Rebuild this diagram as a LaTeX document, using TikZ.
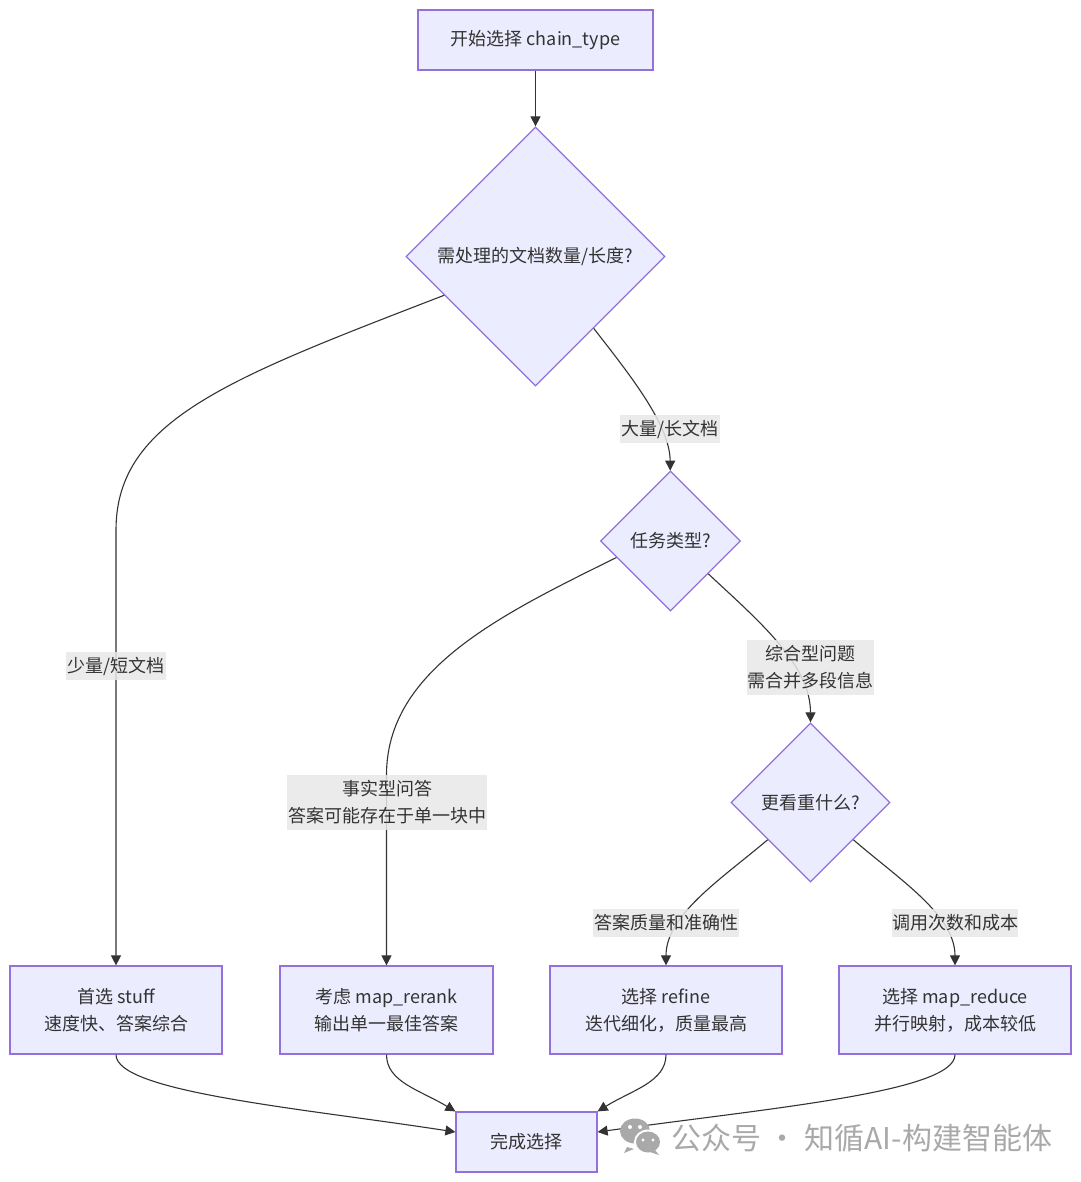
\documentclass[tikz,border=0pt]{standalone}
\usepackage{fontspec}
\setmainfont{Noto Sans CJK SC}
\usetikzlibrary{shapes.geometric,arrows.meta}
\definecolor{boxfill}{HTML}{ECECFF}
\definecolor{boxline}{HTML}{9370DB}
\definecolor{inkdark}{HTML}{333333}
\definecolor{labelbg}{HTML}{E8E8E8}
\definecolor{markgray}{HTML}{A9A9A9}
\tikzset{
	basenode/.style={draw=boxline, fill=boxfill, line width=1.2pt, text=inkdark, inner sep=0pt,
		align=center, font=\fontsize{18}{27}\selectfont},
	stepbox/.style={basenode, rectangle},
	choice/.style={basenode, diamond, aspect=1},
	link/.style={draw=inkdark, line width=1.1pt, -{Triangle[length=10pt,width=10pt]}},
	edgelabel/.style={fill=labelbg, fill opacity=0.85, text opacity=1, text=inkdark, inner sep=0pt,
		align=center, font=\fontsize{18}{27}\selectfont},
}
\begin{document}
\begin{tikzpicture}[x=1pt,y=-1pt]
	\useasboundingbox (0,0) rectangle (1080,1182);
	\node[stepbox, minimum width=235pt, minimum height=60pt] (start) at (535.5,40) {开始选择 chain\_type};
	\node[choice, minimum width=259pt, minimum height=259pt] (docs) at (535.5,256.5) {需处理的文档数量/长度?};
	\node[choice, minimum width=140pt, minimum height=140pt] (task) at (670.5,541) {任务类型?};
	\node[choice, minimum width=159pt, minimum height=159pt] (focus) at (810.5,802.5) {更看重什么?};
	% bottom row
	\foreach \name/\x/\w/\txt in {stuff/116/212/{首选 stuff\\速度快、答案综合},
		rerank/386.5/213/{考虑 map\_rerank\\输出单一最佳答案},
		refine/666/232/{选择 refine\\迭代细化，质量最高},
		reduce/955/232/{选择 map\_reduce\\并行映射，成本较低}}
	{
		\node[stepbox, minimum width=\w pt, minimum height=88pt] (\name) at (\x,1010) {\txt};
	}
	\node[stepbox, minimum width=141pt, minimum height=60pt] (done) at (526.5,1142) {完成选择};

	\draw[link] (start) -- (docs);
	\draw[link] (docs.203) .. controls (230,378) and (116,420) .. (116,530) -- (stuff);
	\draw[link] (docs.-51.5) .. controls (630,375) and (670,425) .. (task);
	\draw[link] (task.197) .. controls (500,615) and (386.5,670) .. (386.5,775) -- (rerank);
	\draw[link] (task.-41) .. controls (760,622) and (810.5,665) .. (focus);
	\draw[link] (focus.-139) .. controls (720,880) and (666,915) .. (refine);
	\draw[link] (focus.-41) .. controls (900,880) and (955,915) .. (reduce);
	\draw[link] (stuff.south) .. controls (116,1092) and (300,1108) .. (done.172);
	\draw[link] (rerank.south) .. controls (386.5,1082) and (420,1090) .. (done.north west);
	\draw[link] (refine.south) .. controls (666,1082) and (632,1090) .. (done.north east);
	\draw[link] (reduce.south) .. controls (955,1092) and (770,1108) .. (done.8);

	\node[edgelabel, minimum width=100pt, minimum height=28pt] (lfew) at (116,666) {少量/短文档};
	\node[edgelabel, minimum width=100pt, minimum height=28pt] (lmany) at (670,429) {大量/长文档};
	\node[edgelabel, minimum width=200pt, minimum height=55pt] (lfact) at (387,802.5) {事实型问答\\答案可能存在于单一块中};
	\node[edgelabel, minimum width=127pt, minimum height=55pt] (lmerge) at (810.5,667.5) {综合型问题\\需合并多段信息};
	\node[edgelabel, minimum width=146pt, minimum height=28pt] (lquality) at (666,923) {答案质量和准确性};
	\node[edgelabel, minimum width=126pt, minimum height=28pt] (lcost) at (955,923) {调用次数和成本};

	% watermark
	\fill[markgray] (635,1131) ellipse (15pt and 12.5pt);
	\fill[markgray] (627,1147) -- (624,1153) -- (634,1149) -- cycle;
	\fill[white] (648,1142) ellipse (14pt and 12.5pt);
	\fill[markgray] (648,1142) ellipse (12pt and 10.5pt);
	\fill[markgray] (655,1150) -- (659,1155) -- (650,1152) -- cycle;
	\fill[white] (630,1127) circle (2pt) (640,1127) circle (2pt) (643,1140) circle (1.6pt) (653,1140) circle (1.6pt);
	\node[text=markgray, inner sep=0pt, anchor=west, font=\fontsize{30}{30}\selectfont] (mark) at (671,1138) {公众号 · 知循AI-构建智能体};
\end{tikzpicture}
\end{document}
